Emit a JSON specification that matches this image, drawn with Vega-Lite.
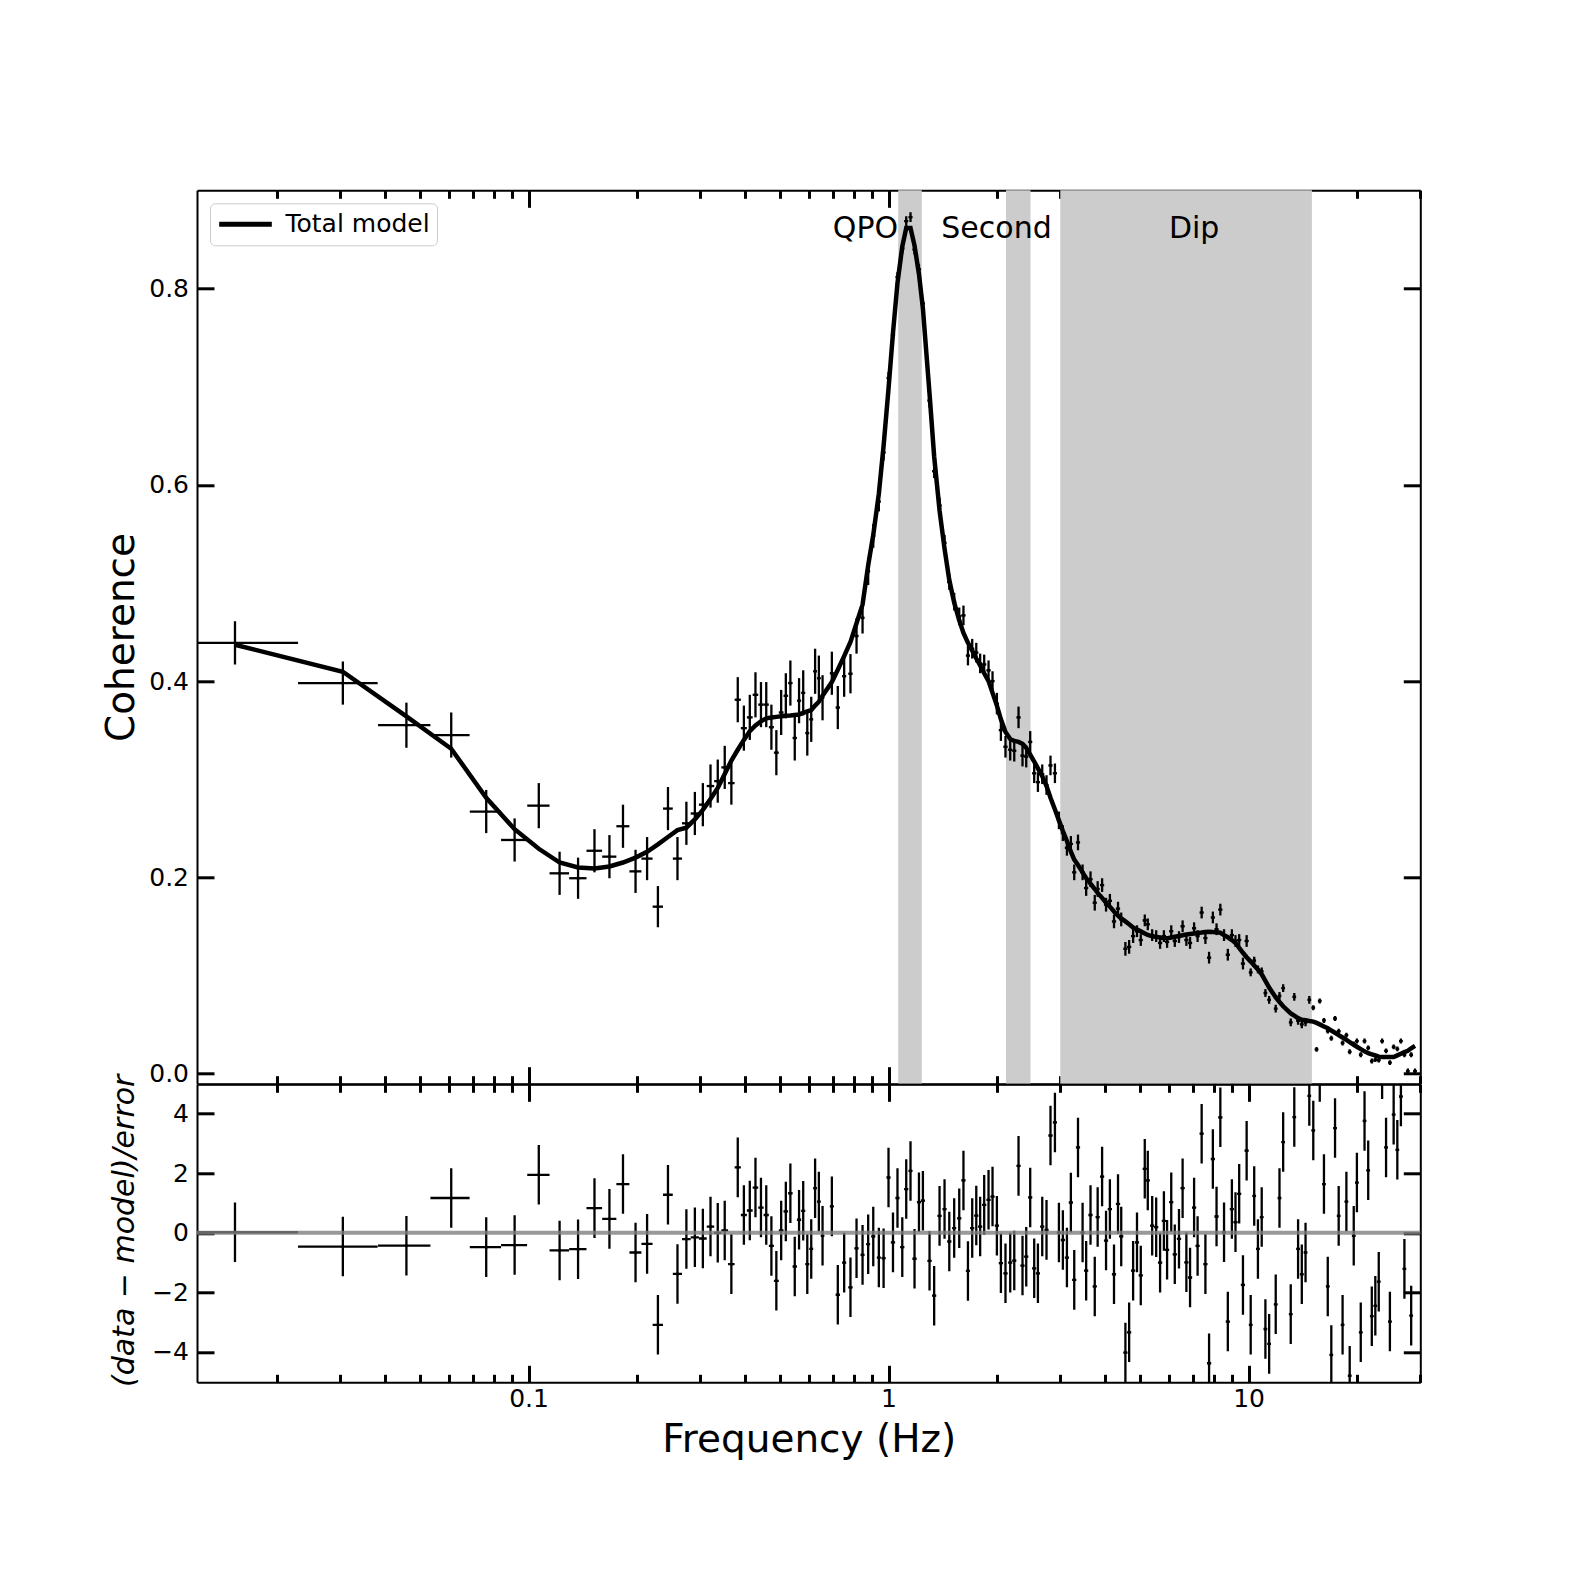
{
  "$schema": "https://vega.github.io/schema/vega-lite/v6.json",
  "background": "white",
  "padding": {"left": 103, "top": 188.3, "right": 100, "bottom": 60},
  "config": {
    "font": "DejaVu Sans",
    "view": {"stroke": null},
    "axis": {"domainColor": "black", "domainWidth": 2, "tickColor": "black", "tickWidth": 3, "grid": false,
      "labelFont": "DejaVu Sans", "labelFontSize": 25, "labelColor": "black", "titleFont": "DejaVu Sans",
      "titleFontWeight": "normal", "titleColor": "black", "zindex": 1, "labelOverlap": false, "labelFlush": false, "labelBound": false}
  },
  "datasets": {
    "bands": [{"lo": 1.064, "hi": 1.237}, {"lo": 2.12, "hi": 2.48}, {"lo": 3.0, "hi": 15.0}],
    "pts": [
      {"f":0.0153,"fe":0.0076,"c":0.439,"ce":0.022,"m":0.437,"r":0.02,"re":1},
      {"f":0.0305,"fe":0.0076,"c":0.398,"ce":0.022,"m":0.4095,"r":-0.46,"re":1},
      {"f":0.0458,"fe":0.0076,"c":0.355,"ce":0.023,"m":0.364,"r":-0.43,"re":1},
      {"f":0.061,"fe":0.0076,"c":0.345,"ce":0.023,"m":0.331,"r":1.17,"re":1},
      {"f":0.0763,"fe":0.0076,"c":0.267,"ce":0.022,"m":0.281,"r":-0.48,"re":1},
      {"f":0.0915,"fe":0.0076,"c":0.238,"ce":0.022,"m":0.249,"r":-0.41,"re":1},
      {"f":0.1068,"fe":0.0076,"c":0.273,"ce":0.023,"m":0.229,"r":1.95,"re":1},
      {"f":0.122,"fe":0.0076,"c":0.204,"ce":0.022,"m":0.215,"r":-0.59,"re":1},
      {"f":0.1373,"fe":0.0076,"c":0.199,"ce":0.021,"m":0.21,"r":-0.55,"re":1},
      {"f":0.1525,"fe":0.0076,"c":0.227,"ce":0.022,"m":0.209,"r":0.83,"re":1},
      {"f":0.1678,"fe":0.0076,"c":0.221,"ce":0.022,"m":0.211,"r":0.47,"re":1},
      {"f":0.183,"fe":0.0076,"c":0.252,"ce":0.022,"m":0.215,"r":1.64,"re":1},
      {"f":0.1983,"fe":0.0076,"c":0.206,"ce":0.022,"m":0.22,"r":-0.66,"re":1},
      {"f":0.2135,"fe":0.0076,"c":0.219,"ce":0.022,"m":0.226,"r":-0.37,"re":1},
      {"f":0.2288,"fe":0.0076,"c":0.17,"ce":0.021,"m":0.2335,"r":-3.09,"re":1},
      {"f":0.244,"fe":0.0076,"c":0.27,"ce":0.022,"m":0.241,"r":1.28,"re":1},
      {"f":0.2593,"fe":0.0076,"c":0.219,"ce":0.022,"m":0.248,"r":-1.38,"re":1},
      {"f":0.2745,"fe":0.0076,"c":0.255,"ce":0.022,"m":0.2505,"r":-0.21,"re":1},
      {"f":0.2898,"fe":0.0076,"c":0.265,"ce":0.022,"m":0.259,"r":-0.15,"re":1},
      {"f":0.305,"fe":0.0076,"c":0.274,"ce":0.022,"m":0.2687,"r":-0.19,"re":1},
      {"f":0.3203,"fe":0.0076,"c":0.293,"ce":0.022,"m":0.2797,"r":0.21,"re":1},
      {"f":0.3355,"fe":0.0076,"c":0.298,"ce":0.022,"m":0.291,"r":0.0,"re":1},
      {"f":0.3508,"fe":0.0076,"c":0.312,"ce":0.022,"m":0.3052,"r":0.08,"re":1},
      {"f":0.366,"fe":0.0076,"c":0.296,"ce":0.022,"m":0.319,"r":-1.05,"re":1},
      {"f":0.3813,"fe":0.0076,"c":0.381,"ce":0.023,"m":0.33,"r":2.2,"re":1},
      {"f":0.3965,"fe":0.0076,"c":0.352,"ce":0.023,"m":0.34,"r":0.6,"re":1},
      {"f":0.4118,"fe":0.0076,"c":0.363,"ce":0.023,"m":0.349,"r":0.75,"re":1},
      {"f":0.427,"fe":0.0076,"c":0.386,"ce":0.023,"m":0.3547,"r":1.52,"re":1},
      {"f":0.4423,"fe":0.0076,"c":0.376,"ce":0.023,"m":0.359,"r":0.85,"re":1},
      {"f":0.4575,"fe":0.0076,"c":0.376,"ce":0.023,"m":0.362,"r":0.6,"re":1},
      {"f":0.4728,"fe":0.0076,"c":0.353,"ce":0.023,"m":0.3628,"r":-0.44,"re":1},
      {"f":0.488,"fe":0.0076,"c":0.327,"ce":0.023,"m":0.3635,"r":-1.61,"re":1},
      {"f":0.5033,"fe":0.0076,"c":0.368,"ce":0.023,"m":0.3641,"r":0.08,"re":1},
      {"f":0.5185,"fe":0.0076,"c":0.385,"ce":0.023,"m":0.3646,"r":0.72,"re":1},
      {"f":0.5338,"fe":0.0076,"c":0.398,"ce":0.023,"m":0.365,"r":1.33,"re":1},
      {"f":0.549,"fe":0.0076,"c":0.342,"ce":0.023,"m":0.3655,"r":-1.13,"re":1},
      {"f":0.5643,"fe":0.0076,"c":0.38,"ce":0.023,"m":0.366,"r":0.44,"re":1},
      {"f":0.5795,"fe":0.0076,"c":0.388,"ce":0.023,"m":0.3675,"r":0.74,"re":1},
      {"f":0.5948,"fe":0.0076,"c":0.347,"ce":0.023,"m":0.369,"r":-1.05,"re":1},
      {"f":0.61,"fe":0.0076,"c":0.361,"ce":0.023,"m":0.3705,"r":-0.54,"re":1},
      {"f":0.6253,"fe":0.0076,"c":0.41,"ce":0.023,"m":0.375,"r":1.5,"re":1},
      {"f":0.6405,"fe":0.0076,"c":0.403,"ce":0.023,"m":0.379,"r":1.05,"re":1},
      {"f":0.6558,"fe":0.0076,"c":0.383,"ce":0.023,"m":0.385,"r":-0.1,"re":1},
      {"f":0.696,"fe":0.009,"c":0.408,"ce":0.022,"m":0.399,"r":0.89,"re":1},
      {"f":0.723,"fe":0.01,"c":0.373,"ce":0.022,"m":0.4115,"r":-2.08,"re":1},
      {"f":0.753,"fe":0.01,"c":0.405,"ce":0.021,"m":0.4255,"r":-1.0,"re":1},
      {"f":0.784,"fe":0.011,"c":0.4075,"ce":0.02,"m":0.44,"r":-1.83,"re":1},
      {"f":0.815,"fe":0.011,"c":0.446,"ce":0.018,"m":0.459,"r":-0.52,"re":1},
      {"f":0.847,"fe":0.011,"c":0.4645,"ce":0.016,"m":0.478,"r":-0.74,"re":1},
      {"f":0.878,"fe":0.011,"c":0.512,"ce":0.014,"m":0.518,"r":-0.38,"re":1},
      {"f":0.907,"fe":0.012,"c":0.548,"ce":0.012,"m":0.549,"r":-0.12,"re":1},
      {"f":0.94,"fe":0.012,"c":0.583,"ce":0.01,"m":0.591,"r":-0.83,"re":1},
      {"f":0.969,"fe":0.013,"c":0.633,"ce":0.008,"m":0.64,"r":-0.85,"re":1},
      {"f":1.0,"fe":0.013,"c":0.709,"ce":0.006,"m":0.698,"r":1.86,"re":1},
      {"f":1.029,"fe":0.014,"c":0.753,"ce":0.005,"m":0.755,"r":-0.32,"re":1},
      {"f":1.059,"fe":0.014,"c":0.812,"ce":0.005,"m":0.806,"r":1.17,"re":1},
      {"f":1.092,"fe":0.015,"c":0.841,"ce":0.005,"m":0.843,"r":-0.48,"re":1},
      {"f":1.12,"fe":0.015,"c":0.869,"ce":0.005,"m":0.862,"r":1.47,"re":1},
      {"f":1.151,"fe":0.015,"c":0.873,"ce":0.005,"m":0.862,"r":2.08,"re":1},
      {"f":1.181,"fe":0.016,"c":0.84,"ce":0.005,"m":0.844,"r":-0.87,"re":1},
      {"f":1.215,"fe":0.016,"c":0.82,"ce":0.005,"m":0.815,"r":1.03,"re":1},
      {"f":1.246,"fe":0.017,"c":0.785,"ce":0.005,"m":0.78,"r":1.08,"re":1},
      {"f":1.3,"fe":0.018,"c":0.686,"ce":0.007,"m":0.693,"r":-0.94,"re":1},
      {"f":1.339,"fe":0.018,"c":0.614,"ce":0.007,"m":0.629,"r":-2.11,"re":1},
      {"f":1.386,"fe":0.019,"c":0.579,"ce":0.008,"m":0.574,"r":0.57,"re":1},
      {"f":1.431,"fe":0.019,"c":0.541,"ce":0.008,"m":0.535,"r":0.8,"re":1},
      {"f":1.475,"fe":0.02,"c":0.501,"ce":0.008,"m":0.503,"r":-0.29,"re":1},
      {"f":1.522,"fe":0.02,"c":0.481,"ce":0.009,"m":0.48,"r":0.16,"re":1},
      {"f":1.572,"fe":0.021,"c":0.466,"ce":0.009,"m":0.462,"r":0.49,"re":1},
      {"f":1.615,"fe":0.022,"c":0.467,"ce":0.01,"m":0.449,"r":1.76,"re":1},
      {"f":1.662,"fe":0.022,"c":0.426,"ce":0.01,"m":0.439,"r":-1.28,"re":1},
      {"f":1.708,"fe":0.023,"c":0.433,"ce":0.01,"m":0.431,"r":0.16,"re":1},
      {"f":1.753,"fe":0.024,"c":0.429,"ce":0.01,"m":0.423,"r":0.58,"re":1},
      {"f":1.797,"fe":0.024,"c":0.418,"ce":0.01,"m":0.416,"r":0.21,"re":1},
      {"f":1.844,"fe":0.025,"c":0.417,"ce":0.01,"m":0.408,"r":0.94,"re":1},
      {"f":1.896,"fe":0.026,"c":0.411,"ce":0.01,"m":0.4,"r":1.11,"re":1},
      {"f":1.945,"fe":0.026,"c":0.4,"ce":0.01,"m":0.388,"r":1.22,"re":1},
      {"f":2.0,"fe":0.027,"c":0.377,"ce":0.011,"m":0.375,"r":0.24,"re":1},
      {"f":2.052,"fe":0.028,"c":0.35,"ce":0.011,"m":0.361,"r":-1.02,"re":1},
      {"f":2.113,"fe":0.029,"c":0.333,"ce":0.011,"m":0.348,"r":-1.36,"re":1},
      {"f":2.178,"fe":0.029,"c":0.33,"ce":0.011,"m":0.341,"r":-1.0,"re":1},
      {"f":2.235,"fe":0.03,"c":0.329,"ce":0.011,"m":0.339,"r":-0.93,"re":1},
      {"f":2.297,"fe":0.031,"c":0.363,"ce":0.011,"m":0.338,"r":2.25,"re":1},
      {"f":2.356,"fe":0.032,"c":0.324,"ce":0.011,"m":0.336,"r":-1.1,"re":1},
      {"f":2.413,"fe":0.033,"c":0.323,"ce":0.011,"m":0.332,"r":-0.8,"re":1},
      {"f":2.475,"fe":0.033,"c":0.338,"ce":0.011,"m":0.325,"r":1.19,"re":1},
      {"f":2.539,"fe":0.034,"c":0.306,"ce":0.01,"m":0.318,"r":-1.19,"re":1},
      {"f":2.6,"fe":0.035,"c":0.297,"ce":0.01,"m":0.311,"r":-1.36,"re":1},
      {"f":2.673,"fe":0.036,"c":0.305,"ce":0.01,"m":0.303,"r":0.21,"re":1},
      {"f":2.747,"fe":0.037,"c":0.294,"ce":0.01,"m":0.293,"r":0.1,"re":1},
      {"f":2.818,"fe":0.038,"c":0.314,"ce":0.01,"m":0.281,"r":3.27,"re":1},
      {"f":2.899,"fe":0.039,"c":0.306,"ce":0.01,"m":0.269,"r":3.71,"re":1},
      {"f":2.974,"fe":0.04,"c":0.258,"ce":0.009,"m":0.258,"r":0.01,"re":1},
      {"f":3.05,"fe":0.041,"c":0.245,"ce":0.008,"m":0.247,"r":-0.24,"re":1},
      {"f":3.13,"fe":0.042,"c":0.23,"ce":0.008,"m":0.237,"r":-0.83,"re":1},
      {"f":3.21,"fe":0.043,"c":0.234,"ce":0.008,"m":0.226,"r":1.02,"re":1},
      {"f":3.28,"fe":0.044,"c":0.205,"ce":0.008,"m":0.218,"r":-1.58,"re":1},
      {"f":3.36,"fe":0.045,"c":0.2355,"ce":0.008,"m":0.2125,"r":2.87,"re":1},
      {"f":3.46,"fe":0.047,"c":0.205,"ce":0.008,"m":0.205,"r":0.01,"re":1},
      {"f":3.54,"fe":0.048,"c":0.189,"ce":0.008,"m":0.199,"r":-1.27,"re":1},
      {"f":3.64,"fe":0.049,"c":0.198,"ce":0.008,"m":0.1935,"r":0.6,"re":1},
      {"f":3.74,"fe":0.05,"c":0.174,"ce":0.008,"m":0.188,"r":-1.8,"re":1},
      {"f":3.81,"fe":0.051,"c":0.188,"ce":0.008,"m":0.184,"r":0.53,"re":1},
      {"f":3.92,"fe":0.053,"c":0.192,"ce":0.007,"m":0.179,"r":1.89,"re":1},
      {"f":4.02,"fe":0.054,"c":0.172,"ce":0.007,"m":0.174,"r":-0.26,"re":1},
      {"f":4.12,"fe":0.056,"c":0.176,"ce":0.007,"m":0.17,"r":0.8,"re":1},
      {"f":4.23,"fe":0.057,"c":0.155,"ce":0.007,"m":0.165,"r":-1.39,"re":1},
      {"f":4.34,"fe":0.059,"c":0.168,"ce":0.007,"m":0.161,"r":0.97,"re":1},
      {"f":4.43,"fe":0.06,"c":0.157,"ce":0.007,"m":0.158,"r":-0.12,"re":1},
      {"f":4.55,"fe":0.061,"c":0.127,"ce":0.007,"m":0.155,"r":-4.02,"re":1},
      {"f":4.66,"fe":0.063,"c":0.129,"ce":0.007,"m":0.152,"r":-3.34,"re":1},
      {"f":4.78,"fe":0.065,"c":0.14,"ce":0.007,"m":0.1487,"r":-1.27,"re":1},
      {"f":4.9,"fe":0.066,"c":0.145,"ce":0.006,"m":0.1467,"r":-0.32,"re":1},
      {"f":5.02,"fe":0.068,"c":0.136,"ce":0.006,"m":0.1448,"r":-1.43,"re":1},
      {"f":5.15,"fe":0.07,"c":0.156,"ce":0.006,"m":0.1427,"r":2.15,"re":1},
      {"f":5.25,"fe":0.071,"c":0.152,"ce":0.006,"m":0.1412,"r":1.76,"re":1},
      {"f":5.4,"fe":0.073,"c":0.141,"ce":0.006,"m":0.1397,"r":0.24,"re":1},
      {"f":5.54,"fe":0.075,"c":0.14,"ce":0.006,"m":0.1392,"r":0.19,"re":1},
      {"f":5.68,"fe":0.077,"c":0.133,"ce":0.006,"m":0.1386,"r":-1.0,"re":1},
      {"f":5.82,"fe":0.079,"c":0.14,"ce":0.006,"m":0.138,"r":0.4,"re":1},
      {"f":5.94,"fe":0.08,"c":0.134,"ce":0.006,"m":0.1377,"r":-0.57,"re":1},
      {"f":6.1,"fe":0.082,"c":0.145,"ce":0.006,"m":0.1385,"r":1.03,"re":1},
      {"f":6.24,"fe":0.084,"c":0.135,"ce":0.006,"m":0.1393,"r":-0.72,"re":1},
      {"f":6.41,"fe":0.087,"c":0.139,"ce":0.006,"m":0.1401,"r":-0.2,"re":1},
      {"f":6.56,"fe":0.089,"c":0.15,"ce":0.006,"m":0.1409,"r":1.5,"re":1},
      {"f":6.72,"fe":0.091,"c":0.136,"ce":0.006,"m":0.1416,"r":-0.99,"re":1},
      {"f":6.88,"fe":0.093,"c":0.133,"ce":0.006,"m":0.1422,"r":-1.5,"re":1},
      {"f":7.06,"fe":0.095,"c":0.148,"ce":0.006,"m":0.1427,"r":0.85,"re":1},
      {"f":7.22,"fe":0.097,"c":0.14,"ce":0.006,"m":0.1431,"r":-0.44,"re":1},
      {"f":7.41,"fe":0.1,"c":0.164,"ce":0.006,"m":0.1436,"r":3.33,"re":1},
      {"f":7.59,"fe":0.102,"c":0.138,"ce":0.006,"m":0.1442,"r":-1.05,"re":1},
      {"f":7.77,"fe":0.105,"c":0.118,"ce":0.006,"m":0.1445,"r":-4.38,"re":1},
      {"f":7.96,"fe":0.107,"c":0.159,"ce":0.006,"m":0.1441,"r":2.48,"re":1},
      {"f":8.15,"fe":0.11,"c":0.147,"ce":0.006,"m":0.1438,"r":0.55,"re":1},
      {"f":8.35,"fe":0.113,"c":0.167,"ce":0.006,"m":0.1434,"r":3.88,"re":1},
      {"f":8.55,"fe":0.115,"c":0.141,"ce":0.006,"m":0.141,"r":0.02,"re":1},
      {"f":8.76,"fe":0.118,"c":0.121,"ce":0.006,"m":0.1388,"r":-2.98,"re":1},
      {"f":8.99,"fe":0.121,"c":0.141,"ce":0.006,"m":0.136,"r":0.8,"re":1},
      {"f":9.2,"fe":0.124,"c":0.135,"ce":0.006,"m":0.133,"r":0.36,"re":1},
      {"f":9.42,"fe":0.127,"c":0.136,"ce":0.006,"m":0.128,"r":1.31,"re":1},
      {"f":9.65,"fe":0.13,"c":0.112,"ce":0.006,"m":0.123,"r":-1.75,"re":1},
      {"f":9.88,"fe":0.133,"c":0.135,"ce":0.006,"m":0.1184,"r":2.76,"re":1},
      {"f":10.14,"fe":0.122,"c":0.103,"ce":0.004,"m":0.114,"r":-3.09,"re":1},
      {"f":10.37,"fe":0.124,"c":0.115,"ce":0.004,"m":0.11,"r":1.24,"re":1},
      {"f":10.62,"fe":0.127,"c":0.106,"ce":0.004,"m":0.106,"r":-0.54,"re":1},
      {"f":10.88,"fe":0.131,"c":0.104,"ce":0.004,"m":0.101,"r":0.53,"re":1},
      {"f":11.14,"fe":0.134,"c":0.082,"ce":0.004,"m":0.0944,"r":-3.23,"re":1},
      {"f":11.41,"fe":0.137,"c":0.075,"ce":0.004,"m":0.0876,"r":-3.73,"re":1},
      {"f":11.9,"fe":0.143,"c":0.066,"ce":0.004,"m":0.0774,"r":-2.4,"re":1},
      {"f":12.19,"fe":0.146,"c":0.079,"ce":0.004,"m":0.0728,"r":1.17,"re":1},
      {"f":12.48,"fe":0.15,"c":0.087,"ce":0.004,"m":0.0684,"r":3.05,"re":1},
      {"f":13.1,"fe":0.157,"c":0.052,"ce":0.004,"m":0.0612,"r":-2.73,"re":1},
      {"f":13.4,"fe":0.161,"c":0.078,"ce":0.004,"m":0.0588,"r":3.89,"re":1},
      {"f":13.73,"fe":0.165,"c":0.0536,"ce":0.004,"m":0.0563,"r":-0.54,"re":1},
      {"f":14.06,"fe":0.169,"c":0.05,"ce":0.004,"m":0.0547,"r":-1.39,"re":1},
      {"f":14.4,"fe":0.173,"c":0.052,"ce":0.004,"m":0.0543,"r":-0.66,"re":1},
      {"f":14.75,"fe":0.177,"c":0.075,"ce":0.004,"m":0.0535,"r":4.6,"re":1},
      {"f":15.13,"fe":0.182,"c":0.067,"ce":0.0025,"m":0.0528,"r":3.44,"re":1},
      {"f":15.45,"fe":0.185,"c":0.0245,"ce":0.0025,"m":0.0515,"r":-11,"re":1},
      {"f":15.77,"fe":0.189,"c":0.0738,"ce":0.0025,"m":0.05,"r":5.4,"re":1},
      {"f":16.2,"fe":0.194,"c":0.054,"ce":0.0025,"m":0.0479,"r":1.64,"re":1},
      {"f":16.6,"fe":0.199,"c":0.0432,"ce":0.0025,"m":0.0461,"r":-1.8,"re":1},
      {"f":16.98,"fe":0.204,"c":0.0358,"ce":0.0025,"m":0.0437,"r":-4.1,"re":1},
      {"f":17.39,"fe":0.209,"c":0.056,"ce":0.0025,"m":0.0414,"r":3.52,"re":1},
      {"f":17.8,"fe":0.214,"c":0.043,"ce":0.0025,"m":0.0391,"r":0.57,"re":1},
      {"f":18.25,"fe":0.219,"c":0.031,"ce":0.0025,"m":0.0366,"r":-3.09,"re":1},
      {"f":18.7,"fe":0.224,"c":0.039,"ce":0.0025,"m":0.0341,"r":1.05,"re":1},
      {"f":19.1,"fe":0.229,"c":0.022,"ce":0.0025,"m":0.0319,"r":-4.8,"re":1},
      {"f":19.6,"fe":0.235,"c":0.03,"ce":0.0025,"m":0.0292,"r":-0.1,"re":1},
      {"f":20.0,"fe":0.24,"c":0.033,"ce":0.0025,"m":0.0272,"r":1.69,"re":1},
      {"f":20.5,"fe":0.246,"c":0.019,"ce":0.0025,"m":0.0248,"r":-3.34,"re":1},
      {"f":21.0,"fe":0.252,"c":0.033,"ce":0.0025,"m":0.0225,"r":3.76,"re":1},
      {"f":21.5,"fe":0.258,"c":0.026,"ce":0.0025,"m":0.0206,"r":2.1,"re":1},
      {"f":22.0,"fe":0.264,"c":0.0126,"ce":0.0025,"m":0.0195,"r":-2.8,"re":1},
      {"f":22.5,"fe":0.27,"c":0.014,"ce":0.0025,"m":0.0183,"r":-2.45,"re":1},
      {"f":23.0,"fe":0.276,"c":0.0135,"ce":0.0025,"m":0.0171,"r":-1.64,"re":1},
      {"f":23.5,"fe":0.282,"c":0.033,"ce":0.0025,"m":0.0167,"r":5.5,"re":1},
      {"f":24.1,"fe":0.289,"c":0.023,"ce":0.0025,"m":0.0167,"r":2.87,"re":1},
      {"f":24.7,"fe":0.296,"c":0.011,"ce":0.0025,"m":0.0167,"r":-2.98,"re":1},
      {"f":25.3,"fe":0.304,"c":0.027,"ce":0.0025,"m":0.0167,"r":3.97,"re":1},
      {"f":25.9,"fe":0.311,"c":0.025,"ce":0.0025,"m":0.0184,"r":2.79,"re":1},
      {"f":26.5,"fe":0.318,"c":0.033,"ce":0.0025,"m":0.0201,"r":4.58,"re":1},
      {"f":27.1,"fe":0.325,"c":0.019,"ce":0.0025,"m":0.0217,"r":-1.21,"re":1},
      {"f":27.7,"fe":0.332,"c":0.0024,"ce":0.0025,"m":0.023,"r":-9,"re":1},
      {"f":28.3,"fe":0.34,"c":0.019,"ce":0.0025,"m":0.0256,"r":-2.78,"re":1},
      {"f":29.0,"fe":0.348,"c":0.0024,"ce":0.0025,"m":0.028,"r":-9,"re":1}
    ]
  },
  "vconcat": [
    {
      "width": 1223.3,
      "height": 893.4,
      "layer": [
        {
          "data": {"name": "bands"},
          "mark": {"type": "rect", "color": "#cccccc"},
          "encoding": {
            "x": {"field": "lo", "type": "quantitative", "scale": {"type": "log", "domain": [0.012, 30], "nice": false},
              "axis": {"orient": "bottom", "values": [0.02,0.03,0.04,0.05,0.06,0.07,0.08,0.09,0.1,0.2,0.3,0.4,0.5,0.6,0.7,0.8,0.9,1,2,3,4,5,6,7,8,9,10,20,30],
                "tickSize": {"condition": {"test": "datum.value === 0.1 || datum.value === 1 || datum.value === 10", "value": -17}, "value": -8},
                "labels": false, "title": null}},
            "x2": {"field": "hi"}
          }
        },
        {
          "data": {"values": [{}]},
          "mark": {"type": "text", "text": "QPO", "fontSize": 30, "align": "center", "baseline": "alphabetic", "color": "black"},
          "encoding": {
            "x": {"datum": 0.863, "type": "quantitative", "scale": {"type": "log", "domain": [0.012, 30], "nice": false}, "axis": null},
            "y": {"datum": 0.8515, "type": "quantitative", "scale": {"domain": [-0.0105, 0.9004], "nice": false, "zero": false}, "axis": null}
          }
        },
        {
          "data": {"values": [{}]},
          "mark": {"type": "text", "text": "Second", "fontSize": 30, "align": "center", "baseline": "alphabetic", "color": "black"},
          "encoding": {
            "x": {"datum": 1.995, "type": "quantitative", "scale": {"type": "log", "domain": [0.012, 30], "nice": false}, "axis": null},
            "y": {"datum": 0.8515, "type": "quantitative", "scale": {"domain": [-0.0105, 0.9004], "nice": false, "zero": false}, "axis": null}
          }
        },
        {
          "data": {"values": [{}]},
          "mark": {"type": "text", "text": "Dip", "fontSize": 30, "align": "center", "baseline": "alphabetic", "color": "black"},
          "encoding": {
            "x": {"datum": 7.06, "type": "quantitative", "scale": {"type": "log", "domain": [0.012, 30], "nice": false}, "axis": null},
            "y": {"datum": 0.8515, "type": "quantitative", "scale": {"domain": [-0.0105, 0.9004], "nice": false, "zero": false}, "axis": null}
          }
        },
        {
          "data": {"name": "pts"},
          "mark": {"type": "errorbar", "color": "black", "rule": {"strokeWidth": 2.3, "clip": true}},
          "encoding": {
            "x": {"field": "f", "type": "quantitative", "scale": {"type": "log", "domain": [0.012, 30], "nice": false},
              "axis": {"orient": "top", "values": [0.02,0.03,0.04,0.05,0.06,0.07,0.08,0.09,0.1,0.2,0.3,0.4,0.5,0.6,0.7,0.8,0.9,1,2,3,4,5,6,7,8,9,10,20,30],
                "tickSize": {"condition": {"test": "datum.value === 0.1 || datum.value === 1 || datum.value === 10", "value": -17}, "value": -8},
                "labels": false, "title": null}},
            "xError": {"field": "fe"},
            "y": {"field": "c", "type": "quantitative", "scale": {"domain": [-0.0105, 0.9004], "nice": false, "zero": false},
              "axis": {"orient": "right", "values": [0, 0.2, 0.4, 0.6, 0.8], "tickSize": -17, "labels": false, "title": null}}
          }
        },
        {
          "data": {"name": "pts"},
          "mark": {"type": "errorbar", "color": "black", "rule": {"strokeWidth": 2.3, "clip": true}},
          "encoding": {
            "x": {"field": "f", "type": "quantitative", "scale": {"type": "log", "domain": [0.012, 30], "nice": false}, "axis": null},
            "y": {"field": "c", "type": "quantitative", "scale": {"domain": [-0.0105, 0.9004], "nice": false, "zero": false},
              "axis": {"orient": "left", "values": [0, 0.2, 0.4, 0.6, 0.8], "format": ".1f", "tickSize": -17, "labelPadding": 25.5,
                "title": "Coherence", "titleFontSize": 39, "titleAngle": 270, "titleAlign": "center", "titleBaseline": "alphabetic", "titleX": -63, "titleY": 446.7}},
            "yError": {"field": "ce"}
          }
        },
        {
          "data": {"name": "pts"},
          "mark": {"type": "circle", "size": 10, "color": "black", "opacity": 1, "clip": true},
          "encoding": {
            "x": {"field": "f", "type": "quantitative", "scale": {"type": "log", "domain": [0.012, 30], "nice": false}, "axis": null},
            "y": {"field": "c", "type": "quantitative", "scale": {"domain": [-0.0105, 0.9004], "nice": false, "zero": false}, "axis": null}
          }
        },
        {
          "data": {"name": "pts"},
          "mark": {"type": "line", "strokeWidth": 4.5, "clip": true},
          "encoding": {
            "x": {"field": "f", "type": "quantitative", "scale": {"type": "log", "domain": [0.012, 30], "nice": false}, "axis": null},
            "y": {"field": "m", "type": "quantitative", "scale": {"domain": [-0.0105, 0.9004], "nice": false, "zero": false}, "axis": null},
            "color": {"datum": "Total model", "type": "nominal", "scale": {"range": ["black"]},
              "legend": {"orient": "top-left", "offset": 12.5, "title": null, "labelFontSize": 25, "labelFont": "DejaVu Sans", "labelColor": "black",
                "symbolType": "stroke", "symbolStrokeWidth": 5, "symbolSize": 2770, "symbolStrokeColor": "black",
                "strokeColor": "#cccccc", "padding": 6.5, "cornerRadius": 5, "fillColor": "white", "labelOffset": 11, "clipHeight": 29}}
          }
        }
      ],
      "resolve": {"axis": {"x": "independent", "y": "independent"}}
    },
    {
      "width": 1223.3,
      "height": 298,
      "layer": [
        {
          "data": {"name": "pts"},
          "mark": {"type": "errorbar", "color": "black", "rule": {"strokeWidth": 2.3, "clip": true}},
          "encoding": {
            "x": {"field": "f", "type": "quantitative", "scale": {"type": "log", "domain": [0.012, 30], "nice": false},
              "axis": {"orient": "top", "values": [0.02,0.03,0.04,0.05,0.06,0.07,0.08,0.09,0.1,0.2,0.3,0.4,0.5,0.6,0.7,0.8,0.9,1,2,3,4,5,6,7,8,9,10,20,30],
                "tickSize": {"condition": {"test": "datum.value === 0.1 || datum.value === 1 || datum.value === 10", "value": -17}, "value": -8},
                "labels": false, "title": null}},
            "xError": {"field": "fe"},
            "y": {"field": "r", "type": "quantitative", "scale": {"domain": [-5.02, 4.99], "nice": false, "zero": false},
              "axis": {"orient": "right", "values": [-4, -2, 0, 2, 4], "tickSize": -17, "labels": false, "title": null}}
          }
        },
        {
          "data": {"name": "pts"},
          "mark": {"type": "errorbar", "color": "black", "rule": {"strokeWidth": 2.3, "clip": true}},
          "encoding": {
            "x": {"field": "f", "type": "quantitative", "scale": {"type": "log", "domain": [0.012, 30], "nice": false},
              "axis": {"orient": "bottom", "values": [0.02,0.03,0.04,0.05,0.06,0.07,0.08,0.09,0.1,0.2,0.3,0.4,0.5,0.6,0.7,0.8,0.9,1,2,3,4,5,6,7,8,9,10,20,30],
                "tickSize": {"condition": {"test": "datum.value === 0.1 || datum.value === 1 || datum.value === 10", "value": -17}, "value": -8},
                "labelExpr": "datum.value === 0.1 ? '0.1' : datum.value === 1 ? '1' : datum.value === 10 ? '10' : ''",
                "labelPadding": 21,
                "title": "Frequency (Hz)", "titleFontSize": 39, "titleAlign": "center", "titleBaseline": "alphabetic", "titleX": 611.7, "titleY": 68.8}},
            "y": {"field": "r", "type": "quantitative", "scale": {"domain": [-5.02, 4.99], "nice": false, "zero": false},
              "axis": {"orient": "left", "values": [-4, -2, 0, 2, 4], "tickSize": -17, "labelPadding": 25.5,
                "labelExpr": "replace(datum.label, '-', '−')",
                "title": "(data − model)/error", "titleFontSize": 30, "titleFontStyle": "italic", "titleAngle": 270, "titleAlign": "center",
                "titleBaseline": "alphabetic", "titleX": -63.5, "titleY": 146}},
            "yError": {"field": "re"}
          }
        },
        {
          "data": {"name": "pts"},
          "mark": {"type": "circle", "size": 10, "color": "black", "opacity": 1, "clip": true},
          "encoding": {
            "x": {"field": "f", "type": "quantitative", "scale": {"type": "log", "domain": [0.012, 30], "nice": false}, "axis": null},
            "y": {"field": "r", "type": "quantitative", "scale": {"domain": [-5.02, 4.99], "nice": false, "zero": false}, "axis": null}
          }
        },
        {
          "data": {"values": [{}]},
          "mark": {"type": "rule", "color": "#808080", "opacity": 0.8, "strokeWidth": 4},
          "encoding": {
            "y": {"datum": 0, "type": "quantitative", "scale": {"domain": [-5.02, 4.99], "nice": false, "zero": false}, "axis": null}
          }
        }
      ],
      "resolve": {"axis": {"x": "independent", "y": "independent"}}
    }
  ],
  "spacing": 0,
  "bounds": "flush"
}
